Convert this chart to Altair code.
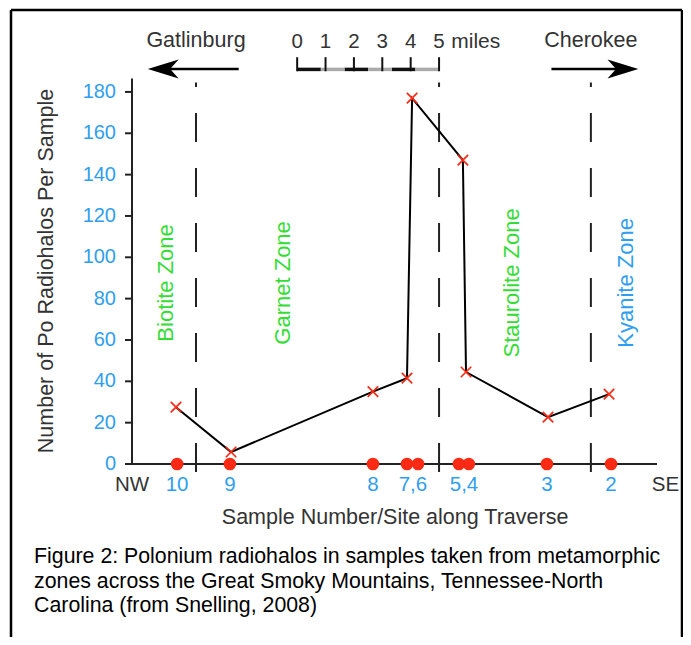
import altair as alt
import pandas as pd

# ---- data ----
samples = ["10", "9", "8", "7", "6", "5", "4", "3", "2"]
site_miles = [1.59, 3.45, 8.49, 9.69, 10.08, 11.52, 11.87, 14.62, 16.88]   # red dots on the traverse
cross_miles = [1.55, 3.49, 8.49, 9.69, 9.87, 11.66, 11.77, 14.66, 16.81]  # plotted counts (x)
halos = [27.5, 5.8, 35, 41.5, 177, 147, 44.5, 22.7, 33.8]
zone_bounds = [2.255, 10.82, 16.17]
zone_names = ["Biotite Zone", "Garnet Zone", "Staurolite Zone", "Kyanite Zone"]
zone_label_miles = [1.2, 5.32, 13.39, 17.41]
xlabel_text = ["NW", "10", "9", "8", "7,6", "5,4", "3", "2", "SE"]
xlabel_miles = [0.0, 1.59, 3.45, 8.49, 9.9, 11.7, 14.62, 16.88, 18.8]
y_ticks = [0, 20, 40, 60, 80, 100, 120, 140, 160, 180]
scale_miles = [0, 1, 2, 3, 4, 5]
caption = [
    "Figure 2: Polonium radiohalos in samples taken from metamorphic",
    "zones across the Great Smoky Mountains, Tennessee-North",
    "Carolina (from Snelling, 2008)",
]

RED = "#fb2a14"
BLUE = "#2f9ef0"
GREEN = "#33dd33"
DARK = "#333333"
FONT = "Liberation Sans"
zone_colors = [GREEN, GREEN, GREEN, BLUE]

PXM = 525 / 18.5      # pixels per mile
PXY = 444 / 214.8     # pixels per count

xs = alt.Scale(domain=[0, 18.5], nice=False, zero=False)
ys = alt.Scale(domain=[0, 214.8], nice=False, zero=False)


def XE(field="x"):
    return alt.X(field + ":Q", scale=xs, axis=None)


def YE(field="y"):
    return alt.Y(field + ":Q", scale=ys, axis=None)


def texts(items, size=19, color=DARK, angle=0, align="center"):
    d = pd.DataFrame(items, columns=["t", "x", "y"])
    return alt.Chart(d).mark_text(
        fontSize=size, font=FONT, color=color, angle=angle,
        align=align, baseline="middle",
    ).encode(x=XE(), y=YE(), text="t:N")


def hrules(items, color="black", width=2):
    d = pd.DataFrame(items, columns=["x", "x2", "y"])
    return alt.Chart(d).mark_rule(color=color, strokeWidth=width).encode(
        x=XE(), x2="x2:Q", y=YE())


def vrules(items, color="black", width=2, dash=None):
    d = pd.DataFrame(items, columns=["x", "y", "y2"])
    kw = dict(color=color, strokeWidth=width)
    if dash:
        kw["strokeDash"] = dash
    return alt.Chart(d).mark_rule(**kw).encode(x=XE(), y=YE(), y2="y2:Q")


layers = []

# frame around figure (decoration, pixel placed)
frame = pd.DataFrame({"_": [0]})
layers.append(alt.Chart(frame).mark_rule(color="black", strokeWidth=2.5).encode(
    x=alt.value(-121), y=alt.value(-10), y2=alt.value(640)))
layers.append(alt.Chart(frame).mark_rule(color="black", strokeWidth=2.5).encode(
    x=alt.value(550), y=alt.value(-10), y2=alt.value(640)))
layers.append(alt.Chart(frame).mark_rule(color="black", strokeWidth=2.5).encode(
    x=alt.value(-121), x2=alt.value(550), y=alt.value(-10)))

# dashed zone boundaries
layers.append(vrules([(b, -3.9, 184.6) for b in zone_bounds], color="#222222", width=2, dash=[29, 26]))

# axis lines
layers.append(hrules([(0, 18.5, 0)], color="#222222", width=2))
layers.append(vrules([(0, 0, 186.5)], color="#222222", width=2))

# y ticks + labels
layers.append(hrules([(-7 / PXM, 0, v) for v in y_ticks], color="#222222", width=2))
layers.append(texts([(str(v), -16 / PXM, v) for v in y_ticks], size=20, color=BLUE, align="right"))

df = pd.DataFrame({
    "sample": samples, "site": site_miles, "cross": cross_miles,
    "halos": halos, "order": list(range(len(samples))), "zero": [0] * len(samples),
})

line = alt.Chart(df).mark_line(color="black", strokeWidth=2).encode(
    x=XE("cross"), y=YE("halos"), order="order:Q")
crosses = alt.Chart(df).mark_point(
    shape="M-1,-1L1,1M-1,1L1,-1", size=110, stroke=RED, strokeWidth=1.7,
    filled=False, opacity=1,
).encode(x=XE("cross"), y=YE("halos"))
dots = alt.Chart(df).mark_circle(size=160, color=RED, opacity=1).encode(
    x=XE("site"), y=YE("zero"))
layers += [line, crosses, dots]

# zone labels
for name, xm, col in zip(zone_names, zone_label_miles, zone_colors):
    layers.append(texts([(name, xm, 87.6)], size=22, color=col, angle=270))

# x labels
layers.append(texts([(t, xm, -10.2) for t, xm in zip(xlabel_text, xlabel_miles) if t in ("NW", "SE")], size=20.5, color=DARK))
layers.append(texts([(t, xm, -10.2) for t, xm in zip(xlabel_text, xlabel_miles) if t not in ("NW", "SE")], size=20.5, color=BLUE))

layers.append(texts([("Sample Number/Site along Traverse", 9.27, -26.1)], size=21.5))
layers.append(texts([("Number of Po Radiohalos Per Sample", -3.0, 93.4)], size=21.5, angle=270))

# header: towns + arrows
layers.append(texts([("Gatlinburg", 2.255, 204.4), ("Cherokee", 16.17, 204.4)], size=21.5))
layers.append(hrules([(1.3, 3.76, 191.1), (14.78, 17.23, 191.1)], width=2.5))
heads = pd.DataFrame({"x": [1.1], "y": [191.1]})
layers.append(alt.Chart(heads).mark_point(
    shape="M-1,0L1,-0.62L0.45,0L1,0.62Z", size=950, filled=True, color="black", opacity=1
).encode(x=XE(), y=YE()))
heads2 = pd.DataFrame({"x": [17.3], "y": [191.1]})
layers.append(alt.Chart(heads2).mark_point(
    shape="M1,0L-1,-0.62L-0.45,0L-1,0.62Z", size=950, filled=True, color="black", opacity=1
).encode(x=XE(), y=YE()))

# scale bar
sb0 = 5.82
seg = 5 / 6
layers.append(hrules([(sb0 + i * seg, sb0 + (i + 1) * seg, 190.9) for i in range(0, 6, 2)], color="#111111", width=3.5))
layers.append(hrules([(sb0 + i * seg, sb0 + (i + 1) * seg, 190.9) for i in range(1, 6, 2)], color="#aaaaaa", width=3.5))
layers.append(vrules([(sb0 + m, 190.0, 196.8) for m in scale_miles], color="#111111", width=2))
layers.append(texts([(str(m), sb0 + m, 204.0) for m in scale_miles], size=20.5))
layers.append(texts([("miles", sb0 + 5.43, 204.0)], size=21, align="left"))

# caption
layers.append(texts([(c, -3.45, -45.0 - i * 11.9) for i, c in enumerate(caption)],
                    size=21.3, color="black", align="left"))

chart = alt.layer(*layers).properties(
    width=525, height=444,
    autosize=alt.AutoSizeParams(type="none"),
    padding={"left": 124, "top": 12, "right": 26, "bottom": 173},
    background="white",
).configure_view(strokeWidth=0)

chart.save("out.html", embed_options={"renderer": "svg", "actions": False})
